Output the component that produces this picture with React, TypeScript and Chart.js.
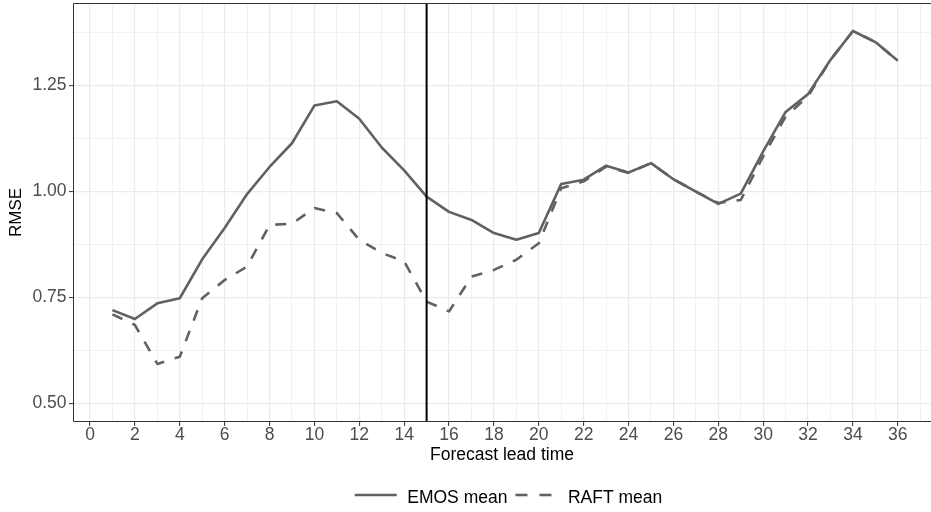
import React, { useEffect, useRef } from 'react';
import { Chart, registerables } from 'chart.js';

Chart.register(...registerables);

// ---- data ----
const leadTimes = [
  1, 2, 3, 4, 5, 6, 7, 8, 9, 10, 11, 12, 13, 14, 15, 16, 17, 18,
  19, 20, 21, 22, 23, 24, 25, 26, 27, 28, 29, 30, 31, 32, 33, 34, 35, 36,
];
const emosMean = [
  0.72, 0.699, 0.736, 0.748, 0.84, 0.914, 0.994, 1.058, 1.114, 1.203, 1.213, 1.172,
  1.104, 1.05, 0.988, 0.952, 0.933, 0.902, 0.886, 0.902, 1.018, 1.028, 1.061, 1.045,
  1.067, 1.029, 1.0, 0.971, 0.995, 1.095, 1.188, 1.23, 1.311, 1.379, 1.353, 1.309,
];
const raftMean = [
  0.71, 0.685, 0.593, 0.61, 0.748, 0.791, 0.823, 0.921, 0.924, 0.961, 0.949, 0.886,
  0.855, 0.835, 0.74, 0.717, 0.799, 0.815, 0.839, 0.878, 1.008, 1.024, 1.059, 1.044,
  1.067, 1.029, 1.0, 0.973, 0.98, 1.083, 1.177, 1.225, 1.311, 1.379, 1.353, 1.309,
];
const seriesLabels = ['EMOS mean', 'RAFT mean'];
const xTickValues = [
  0, 1, 2, 3, 4, 5, 6, 7, 8, 9, 10, 11, 12, 13, 14, 15, 16, 17, 18,
  19, 20, 21, 22, 23, 24, 25, 26, 27, 28, 29, 30, 31, 32, 33, 34, 35, 36, 37,
];
const yTickValues = [0.5, 0.625, 0.75, 0.875, 1.0, 1.125, 1.25, 1.375];
const yMajorTicks = [0.5, 0.75, 1.0, 1.25];
const verticalLineAt = 15;
const xTitle = 'Forecast lead time';
const yTitle = 'RMSE';

const FONT = '"Liberation Sans", Arial, Helvetica, sans-serif';
const LINE_COLOR = '#616161';
const DASH = [11, 11];

const zeroPadding = (scale: any) => {
  scale.paddingTop = 0;
  scale.paddingBottom = 0;
  scale.paddingLeft = 0;
  scale.paddingRight = 0;
};

const decorPlugin = {
  id: 'decor',
  afterDatasetsDraw(chart: any) {
    const { ctx, chartArea: a, scales } = chart;
    const px = scales.x.getPixelForValue(verticalLineAt);
    ctx.save();
    ctx.strokeStyle = '#000000';
    ctx.lineWidth = 2;
    ctx.beginPath();
    ctx.moveTo(px, a.top);
    ctx.lineTo(px, a.bottom);
    ctx.stroke();
    // panel border (right edge lies outside the picture)
    ctx.strokeStyle = '#333333';
    ctx.lineWidth = 1;
    ctx.beginPath();
    ctx.moveTo(a.right, a.top + 0.5);
    ctx.lineTo(a.left + 0.5, a.top + 0.5);
    ctx.lineTo(a.left + 0.5, a.bottom - 0.5);
    ctx.lineTo(a.right, a.bottom - 0.5);
    ctx.stroke();
    ctx.restore();
  },
  afterDraw(chart: any) {
    const { ctx } = chart;
    ctx.save();
    ctx.font = `17.5px ${FONT}`;
    const sampleLen = 42;
    const gapToText = 10.5;
    const gapBetween = 8;
    const widths = seriesLabels.map((l) => ctx.measureText(l).width);
    const total =
      seriesLabels.length * (sampleLen + gapToText) +
      widths.reduce((s, w) => s + w, 0) +
      gapBetween * (seriesLabels.length - 1);
    let x = 508.5 - total / 2;
    const lineY = 495;
    const textBase = 503;
    seriesLabels.forEach((label, i) => {
      ctx.strokeStyle = LINE_COLOR;
      ctx.lineWidth = 2.6;
      ctx.lineCap = 'butt';
      ctx.setLineDash(i === 0 ? [] : [12, 12]);
      ctx.beginPath();
      ctx.moveTo(x, lineY);
      ctx.lineTo(x + sampleLen, lineY);
      ctx.stroke();
      ctx.setLineDash([]);
      x += sampleLen + gapToText;
      ctx.fillStyle = '#000000';
      ctx.textAlign = 'left';
      ctx.textBaseline = 'alphabetic';
      ctx.fillText(label, x, textBase);
      x += widths[i] + gapBetween;
    });
    ctx.restore();
  },
};

export default function App() {
  const canvasRef = useRef<HTMLCanvasElement | null>(null);

  useEffect(() => {
    if (!canvasRef.current) return;
    const toPoints = (vals: number[]) => leadTimes.map((t, i) => ({ x: t, y: vals[i] }));
    const chart = new Chart(canvasRef.current, {
      type: 'line',
      data: {
        datasets: [
          {
            label: seriesLabels[0],
            data: toPoints(emosMean),
            borderColor: LINE_COLOR,
            borderWidth: 2.6,
            pointRadius: 0,
            tension: 0,
            borderJoinStyle: 'round',
            borderCapStyle: 'butt',
            fill: false,
          },
          {
            label: seriesLabels[1],
            data: toPoints(raftMean),
            borderColor: LINE_COLOR,
            borderWidth: 2.6,
            borderDash: DASH,
            pointRadius: 0,
            tension: 0,
            borderJoinStyle: 'round',
            borderCapStyle: 'butt',
            fill: false,
          },
        ],
      },
      options: {
        responsive: false,
        animation: false,
        layout: { padding: { top: 3, right: 0, bottom: 40, left: 0 }, autoPadding: false },
        plugins: {
          legend: { display: false },
          tooltip: { enabled: false },
        },
        scales: {
          x: {
            type: 'linear',
            min: -0.758,
            max: 37.478,
            afterBuildTicks: (scale: any) => {
              scale.ticks = xTickValues.map((v) => ({ value: v }));
            },
            afterFit: (scale: any) => {
              scale.height = 50;
              zeroPadding(scale);
            },
            ticks: {
              autoSkip: false,
              maxRotation: 0,
              minRotation: 0,
              padding: 0,
              color: '#4D4D4D',
              font: { family: FONT, size: 17.5, lineHeight: 1 },
              callback: (v: any) => (Number(v) % 2 === 0 ? String(v) : ''),
            },
            grid: {
              color: '#EBEBEB',
              lineWidth: (ctx: any) => (ctx.tick && ctx.tick.value % 2 === 0 ? 1.2 : 0.7),
              tickColor: (ctx: any) =>
                ctx.tick && ctx.tick.value % 2 === 0 ? '#333333' : 'rgba(0,0,0,0)',
              tickLength: 4,
              tickWidth: 1,
            },
            border: { display: false },
            title: {
              display: true,
              text: xTitle,
              color: '#000000',
              font: { family: FONT, size: 17.5, lineHeight: 1 },
              padding: { top: 0, bottom: 8 },
            },
          },
          y: {
            type: 'linear',
            min: 0.4558,
            max: 1.4452,
            afterBuildTicks: (scale: any) => {
              scale.ticks = yTickValues.map((v) => ({ value: v }));
            },
            afterFit: (scale: any) => {
              scale.width = 73;
              zeroPadding(scale);
            },
            ticks: {
              padding: 2.5,
              color: '#4D4D4D',
              font: { family: FONT, size: 17.5, lineHeight: 1 },
              callback: (v: any) =>
                yMajorTicks.some((m) => Math.abs(m - Number(v)) < 1e-6) ? Number(v).toFixed(2) : '',
            },
            grid: {
              color: '#EBEBEB',
              lineWidth: (ctx: any) =>
                ctx.tick && yMajorTicks.some((m) => Math.abs(m - ctx.tick.value) < 1e-6) ? 1.2 : 0.7,
              tickColor: (ctx: any) =>
                ctx.tick && yMajorTicks.some((m) => Math.abs(m - ctx.tick.value) < 1e-6)
                  ? '#333333'
                  : 'rgba(0,0,0,0)',
              tickLength: 4,
              tickWidth: 1,
            },
            border: { display: false },
            title: {
              display: true,
              text: yTitle,
              color: '#000000',
              font: { family: FONT, size: 17, lineHeight: 1 },
              padding: { top: 8.3, bottom: 0 },
            },
          },
        },
      },
      plugins: [decorPlugin],
    });
    return () => chart.destroy();
  }, []);

  return (
    <div style={{ position: 'absolute', left: 0, top: 0, width: 931, height: 512, background: '#ffffff' }}>
      <canvas ref={canvasRef} width={931} height={512} style={{ display: 'block' }} />
    </div>
  );
}
